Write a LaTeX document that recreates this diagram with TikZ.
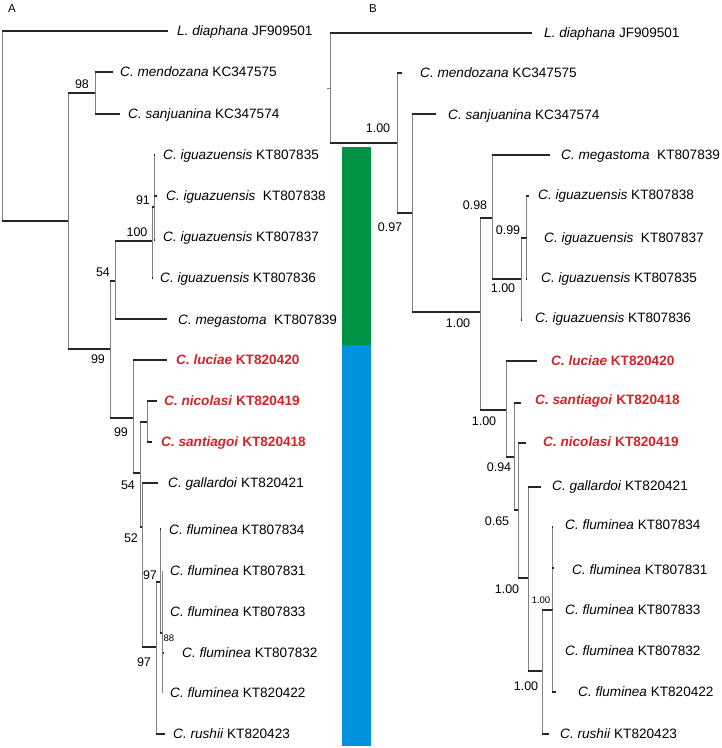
\documentclass[tikz,border=0pt]{standalone}
\usepackage{fontspec}
\setmainfont{Liberation Sans}
\usetikzlibrary{positioning}
\definecolor{newred}{RGB}{210,35,42}
\definecolor{bargreen}{RGB}{0,146,69}
\definecolor{barblue}{RGB}{0,146,221}

\begin{document}
\begin{tikzpicture}[x=1pt,y=-1pt,
  hline/.style={line width=1.3pt,black!85},
  vline/.style={line width=0.7pt,black!50},
  taxon/.style={anchor=west,inner sep=0pt,text height=9.7pt,text depth=0pt,
    font=\fontsize{13.6}{16}\selectfont},
  newsp/.style={taxon,text=newred,font=\fontsize{13.6}{16}\selectfont\bfseries},
  supp/.style={inner sep=0pt,text height=9pt,text depth=0pt,
    font=\fontsize{12.5}{14}\selectfont},
  suppsmall/.style={supp,text height=7pt,font=\fontsize{9.5}{11}\selectfont},
  panel/.style={inner sep=0pt,font=\fontsize{11.5}{13}\selectfont}]
  \useasboundingbox (0,0) rectangle (722,748);

  \node[panel] (panA) at (12,9) {A};
  \node[panel] (panB) at (373,9) {B};

  \fill[bargreen] (342,147) rectangle (371,345);
  \fill[barblue] (342,345) rectangle (371,746);

  \coordinate (rA) at (2,221);
  \coordinate (a1) at (68,221);
  \coordinate (a2) at (95,93);
  \coordinate (a3) at (110,349);
  \coordinate (a4) at (115,281);
  \coordinate (a5) at (152,241);
  \coordinate (a6) at (154,207);
  \coordinate (a7) at (133,418);
  \coordinate (a8) at (140,473);
  \coordinate (a9) at (147,422);
  \coordinate (a10) at (142,527);
  \coordinate (a11) at (156,647);
  \coordinate (a12) at (160,582);
  \coordinate (a13) at (162,633);

  \coordinate (lA1) at (168,31);
  \coordinate (lA2) at (113,72);
  \coordinate (lA3) at (120,114);
  \coordinate (lA4) at (155,155);
  \coordinate (lA5) at (157,196);
  \coordinate (lA6) at (155,240);
  \coordinate (lA7) at (153,278);
  \coordinate (lA8) at (167,319);
  \coordinate (lA9) at (167,360);
  \coordinate (lA10) at (157,401);
  \coordinate (lA11) at (152,442);
  \coordinate (lA12) at (158,483);
  \coordinate (lA13) at (161,529);
  \coordinate (lA14) at (162,571);
  \coordinate (lA15) at (162,612);
  \coordinate (lA16) at (164,653);
  \coordinate (lA17) at (162,693);
  \coordinate (lA18) at (165,734);

  \foreach \p/\c in {rA/lA1,rA/a1,a1/a2,a1/a3,a2/lA2,a2/lA3,a3/a4,a3/a7,
      a4/a5,a4/lA8,a5/a6,a5/lA7,a6/lA4,a6/lA5,a6/lA6,a7/lA9,a7/a8,a8/a9,
      a8/a10,a9/lA10,a9/lA11,a10/lA12,a10/a11,a11/a12,a11/lA18,a12/lA13,
      a12/a13,a13/lA14,a13/lA15,a13/lA16,a13/lA17}{
    \draw[vline] (\p) -- (\p |- \c);
    \draw[hline] (\p |- \c) -- (\c);
  }

  \node[taxon] (tA1) at (177,31) {\textit{L. diaphana} JF909501};
  \node[taxon] (tA2) at (120,72) {\textit{C. mendozana} KC347575};
  \node[taxon] (tA3) at (128,114) {\textit{C. sanjuanina} KC347574};
  \node[taxon] (tA4) at (163,155) {\textit{C. iguazuensis} KT807835};
  \node[taxon] (tA5) at (166,196) {\textit{C. iguazuensis}\ \ KT807838};
  \node[taxon] (tA6) at (163,237) {\textit{C. iguazuensis} KT807837};
  \node[taxon] (tA7) at (160,278) {\textit{C. iguazuensis} KT807836};
  \node[taxon] (tA8) at (178,320) {\textit{C. megastoma}\ \ KT807839};
  \node[newsp] (tA9) at (176,360) {\textit{C. luciae} KT820420};
  \node[newsp] (tA10) at (164,401) {\textit{C. nicolasi} KT820419};
  \node[newsp] (tA11) at (161,442) {\textit{C. santiagoi} KT820418};
  \node[taxon] (tA12) at (168,483) {\textit{C. gallardoi} KT820421};
  \node[taxon] (tA13) at (169,530) {\textit{C. fluminea} KT807834};
  \node[taxon] (tA14) at (170,571) {\textit{C. fluminea} KT807831};
  \node[taxon] (tA15) at (170,612) {\textit{C. fluminea} KT807833};
  \node[taxon] (tA16) at (182,653) {\textit{C. fluminea} KT807832};
  \node[taxon] (tA17) at (170,693) {\textit{C. fluminea} KT820422};
  \node[taxon] (tA18) at (173,734) {\textit{C. rushii} KT820423};

  \node[supp] (sA1) at (82,84) {98};
  \node[supp] (sA2) at (143,200) {91};
  \node[supp] (sA3) at (137,232) {100};
  \node[supp] (sA4) at (103,272) {54};
  \node[supp] (sA5) at (98,359) {99};
  \node[supp] (sA6) at (121,432) {99};
  \node[supp] (sA7) at (128,485) {54};
  \node[supp] (sA8) at (131,538) {52};
  \node[supp] (sA9) at (150,575) {97};
  \node[suppsmall] (sA10) at (169,638) {88};
  \node[supp] (sA11) at (144,662) {97};

  \coordinate (rB) at (330,88);
  \coordinate (b1) at (397,143);
  \coordinate (b2) at (412,213);
  \coordinate (b3) at (480,312);
  \coordinate (b4) at (492,218);
  \coordinate (b5) at (521,279);
  \coordinate (b6) at (526,238);
  \coordinate (b7) at (506,410);
  \coordinate (b8) at (514,457);
  \coordinate (b9) at (518,510);
  \coordinate (b10) at (528,578);
  \coordinate (b11) at (542,671);
  \coordinate (b12) at (552,610);

  \coordinate (lB1) at (532,33);
  \coordinate (lB2) at (402,73);
  \coordinate (lB3) at (436,114);
  \coordinate (lB4) at (550,155);
  \coordinate (lB5) at (529,196);
  \coordinate (lB6) at (527,238);
  \coordinate (lB7) at (527,279);
  \coordinate (lB8) at (522,320);
  \coordinate (lB9) at (537,361);
  \coordinate (lB10) at (521,403);
  \coordinate (lB11) at (526,443);
  \coordinate (lB12) at (541,487);
  \coordinate (lB13) at (553,527);
  \coordinate (lB14) at (554,568);
  \coordinate (lB15) at (553,610);
  \coordinate (lB16) at (553,651);
  \coordinate (lB17) at (556,692);
  \coordinate (lB18) at (549,734);

  \draw[vline] (rB) -- ++(-3,0);
  \foreach \p/\c in {rB/lB1,rB/b1,b1/lB2,b1/b2,b2/lB3,b2/b3,b3/b4,b3/b7,
      b4/lB4,b4/b5,b5/b6,b5/lB8,b6/lB5,b6/lB6,b6/lB7,b7/lB9,b7/b8,b8/lB10,
      b8/b9,b9/lB11,b9/b10,b10/lB12,b10/b11,b11/b12,b11/lB18,b12/lB13,
      b12/lB14,b12/lB15,b12/lB16,b12/lB17}{
    \draw[vline] (\p) -- (\p |- \c);
    \draw[hline] (\p |- \c) -- (\c);
  }

  \node[taxon] (tB1) at (544,33) {\textit{L. diaphana} JF909501};
  \node[taxon] (tB2) at (420,73) {\textit{C. mendozana} KC347575};
  \node[taxon] (tB3) at (448,115) {\textit{C. sanjuanina} KC347574};
  \node[taxon] (tB4) at (561,155) {\textit{C. megastoma}\ \ KT807839};
  \node[taxon] (tB5) at (538,195) {\textit{C. iguazuensis} KT807838};
  \node[taxon] (tB6) at (544,238) {\textit{C. iguazuensis}\ \ KT807837};
  \node[taxon] (tB7) at (541,278) {\textit{C. iguazuensis} KT807835};
  \node[taxon] (tB8) at (535,318) {\textit{C. iguazuensis} KT807836};
  \node[newsp] (tB9) at (551,361) {\textit{C. luciae} KT820420};
  \node[newsp] (tB10) at (535,400) {\textit{C. santiagoi} KT820418};
  \node[newsp] (tB11) at (543,442) {\textit{C. nicolasi} KT820419};
  \node[taxon] (tB12) at (552,486) {\textit{C. gallardoi} KT820421};
  \node[taxon] (tB13) at (565,525) {\textit{C. fluminea} KT807834};
  \node[taxon] (tB14) at (572,570) {\textit{C. fluminea} KT807831};
  \node[taxon] (tB15) at (565,610) {\textit{C. fluminea} KT807833};
  \node[taxon] (tB16) at (565,651) {\textit{C. fluminea} KT807832};
  \node[taxon] (tB17) at (578,692) {\textit{C. fluminea} KT820422};
  \node[taxon] (tB18) at (560,734) {\textit{C. rushii} KT820423};

  \node[supp] (sB1) at (378,128) {1.00};
  \node[supp] (sB2) at (390,227) {0.97};
  \node[supp] (sB3) at (475,205) {0.98};
  \node[supp] (sB4) at (508,230) {0.99};
  \node[supp] (sB5) at (503,288) {1.00};
  \node[supp] (sB6) at (458,323) {1.00};
  \node[supp] (sB7) at (484,421) {1.00};
  \node[supp] (sB8) at (499,467) {0.94};
  \node[supp] (sB9) at (497,521) {0.65};
  \node[supp] (sB10) at (507,589) {1.00};
  \node[suppsmall] (sB11) at (541,600) {1.00};
  \node[supp] (sB12) at (526,686) {1.00};
\end{tikzpicture}
\end{document}
